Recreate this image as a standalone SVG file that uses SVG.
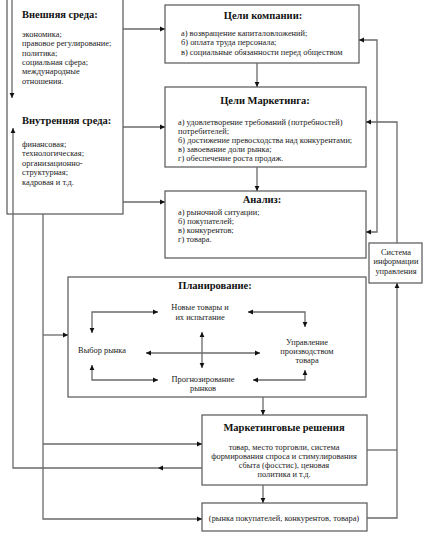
<svg xmlns="http://www.w3.org/2000/svg" width="430" height="541" viewBox="0 0 430 541">
<defs>
<marker id="ah" markerUnits="userSpaceOnUse" markerWidth="6" markerHeight="6" refX="5" refY="3" orient="auto-start-reverse">
<path d="M0,0.6 L5,3 L0,5.4 Z" fill="#111"/>
</marker>
<style>
.box{fill:#fff;stroke:#555;stroke-width:1.2}
.c{fill:none;stroke:#6a6a6a;stroke-width:1.3}
.a{marker-end:url(#ah)}
.b{marker-start:url(#ah);marker-end:url(#ah)}
text{font-family:"Liberation Serif","Times New Roman",serif;fill:#222}
.t{font-size:8.4px}
.h{font-size:10.5px;font-weight:bold;fill:#111}
.m{text-anchor:middle}
</style>
</defs>
<rect width="430" height="541" fill="#fff"/>

<g id="env">
<rect class="box" x="7" y="-2" width="116" height="216"/>
<text class="h" x="22" y="18">Внешняя среда:</text>
<text class="t" x="22" y="37">экономика;</text>
<text class="t" x="22" y="46">правовое регулирование;</text>
<text class="t" x="22" y="56">политика;</text>
<text class="t" x="22" y="65">социальная сфера;</text>
<text class="t" x="22" y="74">международные</text>
<text class="t" x="22" y="84">отношения.</text>
<text class="h" x="22" y="124">Внутренняя среда:</text>
<text class="t" x="22" y="147">финансовая;</text>
<text class="t" x="22" y="156">технологическая;</text>
<text class="t" x="22" y="166">организационно-</text>
<text class="t" x="22" y="175">структурная;</text>
<text class="t" x="22" y="185">кадровая и т.д.</text>
</g>

<g id="company-goals">
<rect class="box" x="165" y="5" width="194" height="58"/>
<text class="h m" x="263" y="19">Цели компании:</text>
<text class="t" x="181" y="36">а) возвращение капиталовложений;</text>
<text class="t" x="181" y="45">б) оплата труда персонала;</text>
<text class="t" x="181" y="55">в) социальные обязанности перед обществом</text>
</g>

<g id="marketing-goals">
<rect class="box" x="165" y="87" width="201" height="80"/>
<text class="h m" x="265" y="104">Цели Маркетинга:</text>
<text class="t" x="178" y="125">а) удовлетворение требований (потребностей)</text>
<text class="t" x="178" y="134">потребителей;</text>
<text class="t" x="178" y="143">б) достижение превосходства над конкурентами;</text>
<text class="t" x="178" y="152">в) завоевание доли рынка;</text>
<text class="t" x="178" y="161">г) обеспечение роста продаж.</text>
</g>

<g id="analysis">
<rect class="box" x="165" y="191" width="201" height="67"/>
<text class="h m" x="262" y="203">Анализ:</text>
<text class="t" x="178" y="215">а) рыночной ситуации;</text>
<text class="t" x="178" y="224">б) покупателей;</text>
<text class="t" x="178" y="233">в) конкурентов;</text>
<text class="t" x="178" y="242">г) товара.</text>
</g>

<g id="mis">
<rect class="box" x="369" y="243" width="53" height="40"/>
<text class="t m" x="396" y="255">Система</text>
<text class="t m" x="396" y="264">информации</text>
<text class="t m" x="396" y="274">управления</text>
</g>

<g id="planning">
<rect class="box" x="68" y="277" width="298" height="120"/>
<text class="h m" x="215" y="289">Планирование:</text>
<text class="t m" x="200" y="310">Новые товары и</text>
<text class="t m" x="200" y="320">их испытание</text>
<text class="t m" x="102" y="353">Выбор рынка</text>
<text class="t m" x="307" y="345">Управление</text>
<text class="t m" x="307" y="354">производством</text>
<text class="t m" x="307" y="363">товара</text>
<text class="t m" x="203" y="382">Прогнозирование</text>
<text class="t m" x="203" y="391">рынков</text>
</g>

<g id="decisions">
<rect class="box" x="202" y="415" width="165" height="70"/>
<text class="h m" x="284" y="431">Маркетинговые решения</text>
<text class="t m" x="284" y="450">товар, место торговли, система</text>
<text class="t m" x="284" y="459">формирования спроса и стимулирования</text>
<text class="t m" x="284" y="468">сбыта (фосстис), ценовая</text>
<text class="t m" x="284" y="477">политика и т.д.</text>
</g>

<g id="research">
<rect class="box" x="202" y="503" width="165" height="28"/>
<text class="t m" x="284" y="521">(рынка покупателей, конкурентов, товара)</text>
</g>

<g id="connectors">
<path class="c a" d="M123,29 H165"/>
<path class="c a" d="M123,127 H165"/>
<path class="c a" d="M123,202 H165"/>
<path class="c a" d="M257,63 V87"/>
<path class="c a" d="M257,167 V191"/>
<path class="c b" d="M359,40 H377 V232 H366"/>
<path class="c a" d="M397,243 V122 H366"/>
<path class="c" d="M367,450 H397"/>
<path class="c a" d="M367,518 H397 V283"/>
<path class="c a" d="M12,-2 V98"/>
<path class="c a" d="M202,468 H158"/>
<path class="c a" d="M158,468 H13 V128"/>
<path class="c a" d="M43,214 V519 H202"/>
<path class="c a" d="M43,444 H202"/>
<path class="c a" d="M43,335 H68"/>
<path class="c a" d="M263,397 V415"/>
<path class="c a" d="M263,485 V503"/>
<path class="c b" d="M92,333 V312 H158"/>
<path class="c b" d="M248,312 H305 V327"/>
<path class="c b" d="M92,365 V380 H158"/>
<path class="c b" d="M253,380 H305 V370"/>
<path class="c b" d="M202,332 V368"/>
<path class="c b" d="M146,353 H260"/>
</g>
</svg>
